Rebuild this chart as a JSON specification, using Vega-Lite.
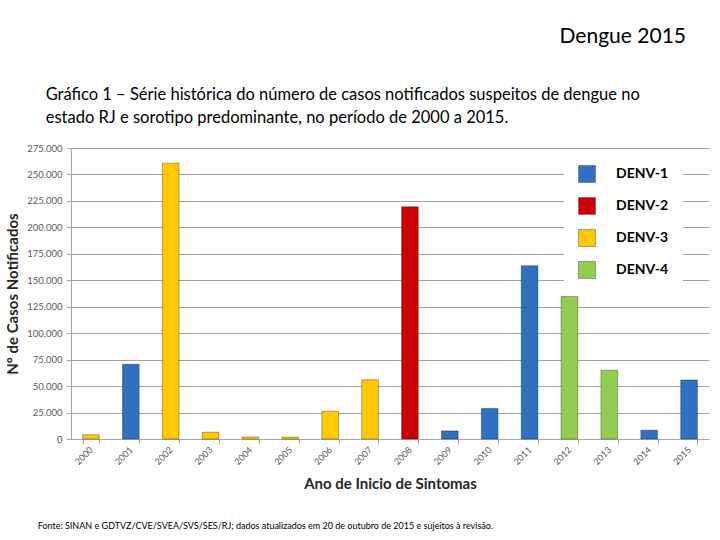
{
  "$schema": "https://vega.github.io/schema/vega-lite/v6.json",
  "background": "white",
  "padding": {"left": 5, "top": 25, "right": 5, "bottom": 5},
  "config": {
    "font": "Lato",
    "view": {"stroke": null},
    "locale": {
      "number": {"decimal": ",", "thousands": ".", "grouping": [3], "currency": ["R$", ""]}
    }
  },
  "title": {
    "text": "Dengue 2015",
    "anchor": "end",
    "font": "Lato",
    "fontSize": 21,
    "fontWeight": "normal",
    "color": "#000000",
    "dx": -23,
    "offset": 40
  },
  "vconcat": [
    {
      "title": {
        "text": [
          "Gráfico 1 – Série histórica do número de casos notificados suspeitos de dengue no",
          "estado RJ e sorotipo predominante, no período de 2000 a 2015."
        ],
        "anchor": "start",
        "frame": "bounds",
        "font": "Lato",
        "fontSize": 16.5,
        "fontWeight": "normal",
        "lineHeight": 23,
        "color": "#000000",
        "dx": 40,
        "offset": 17
      },
      "vconcat": [
        {
          "width": 638,
          "height": 291,
          "title": {
            "text": "Fonte: SINAN e GDTVZ/CVE/SVEA/SVS/SES/RJ; dados atualizados em 20 de outubro de 2015 e sujeitos à revisão.",
            "orient": "bottom",
            "anchor": "start",
            "frame": "bounds",
            "font": "Lato",
            "fontSize": 9,
            "fontWeight": "normal",
            "color": "#000000",
            "dx": 32,
            "offset": 31
          },
          "data": {
            "values": [
              {"ano": "2000", "casos": 4000, "sorotipo": "DENV-3"},
              {"ano": "2001", "casos": 70700, "sorotipo": "DENV-1"},
              {"ano": "2002", "casos": 260700, "sorotipo": "DENV-3"},
              {"ano": "2003", "casos": 6400, "sorotipo": "DENV-3"},
              {"ano": "2004", "casos": 1900, "sorotipo": "DENV-3"},
              {"ano": "2005", "casos": 1800, "sorotipo": "DENV-3"},
              {"ano": "2006", "casos": 26300, "sorotipo": "DENV-3"},
              {"ano": "2007", "casos": 56000, "sorotipo": "DENV-3"},
              {"ano": "2008", "casos": 219500, "sorotipo": "DENV-2"},
              {"ano": "2009", "casos": 7600, "sorotipo": "DENV-1"},
              {"ano": "2010", "casos": 28900, "sorotipo": "DENV-1"},
              {"ano": "2011", "casos": 163800, "sorotipo": "DENV-1"},
              {"ano": "2012", "casos": 134600, "sorotipo": "DENV-4"},
              {"ano": "2013", "casos": 65000, "sorotipo": "DENV-4"},
              {"ano": "2014", "casos": 8300, "sorotipo": "DENV-1"},
              {"ano": "2015", "casos": 55800, "sorotipo": "DENV-1"}
            ]
          },
          "mark": {
            "type": "bar",
            "stroke": "#000000",
            "strokeOpacity": 0.3,
            "strokeWidth": 1
          },
          "encoding": {
            "x": {
              "field": "ano",
              "type": "ordinal",
              "scale": {"paddingInner": 0.58, "paddingOuter": 0.29},
              "axis": {
                "title": "Ano de Inicio de Sintomas",
                "titleFont": "Lato",
                "titleFontSize": 15,
                "titleFontWeight": "bold",
                "titleColor": "#262626",
                "titlePadding": 10,
                "labelAngle": -45,
                "labelAlign": "right",
                "labelBaseline": "middle",
                "labelFontSize": 9,
                "labelColor": "#595959",
                "labelPadding": 4,
                "tickBand": "extent",
                "tickColor": "#a6a6a6",
                "tickSize": 5,
                "domainColor": "#a6a6a6",
                "grid": false
              }
            },
            "y": {
              "field": "casos",
              "type": "quantitative",
              "scale": {"domain": [0, 275000], "nice": false},
              "axis": {
                "title": "Nº de Casos Notificados",
                "titleFont": "Lato",
                "titleFontSize": 15,
                "titleFontWeight": "bold",
                "titleColor": "#262626",
                "titlePadding": 6,
                "values": [0, 25000, 50000, 75000, 100000, 125000, 150000, 175000, 200000, 225000, 250000, 275000],
                "format": ",d",
                "labelFontSize": 9.5,
                "labelColor": "#595959",
                "labelPadding": 4,
                "tickColor": "#a6a6a6",
                "tickSize": 5,
                "domainColor": "#a6a6a6",
                "gridColor": "#a0a0a0",
                "gridWidth": 1
              }
            },
            "color": {
              "field": "sorotipo",
              "type": "nominal",
              "scale": {
                "domain": ["DENV-1", "DENV-2", "DENV-3", "DENV-4"],
                "range": ["#3070c0", "#cc0000", "#ffc800", "#92cc50"]
              },
              "legend": {
                "title": null,
                "orient": "none",
                "legendX": 493,
                "legendY": 3,
                "fillColor": "white",
                "padding": 14,
                "symbolType": "square",
                "symbolSize": 289,
                "symbolStrokeColor": "#555555",
                "symbolStrokeWidth": 0.5,
                "symbolOpacity": 1,
                "labelFont": "Lato",
                "labelFontSize": 14,
                "labelFontWeight": "bold",
                "labelColor": "#000000",
                "labelOffset": 20,
                "rowPadding": 12
              }
            }
          }
        }
      ]
    }
  ]
}
